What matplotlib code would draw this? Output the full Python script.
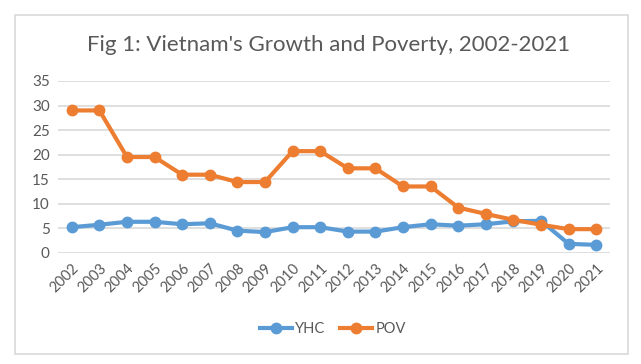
import matplotlib
matplotlib.use("Agg")
import matplotlib.pyplot as plt
from matplotlib.patches import Rectangle
from matplotlib.lines import Line2D

years = [str(y) for y in range(2002, 2022)]
yhc = [5.2, 5.7, 6.3, 6.3, 5.8, 6.0, 4.5, 4.2, 5.2, 5.2,
       4.3, 4.3, 5.2, 5.8, 5.5, 5.8, 6.4, 6.5, 1.8, 1.6]
pov = [29.0, 29.0, 19.5, 19.5, 15.9, 15.9, 14.4, 14.4, 20.7, 20.7,
       17.2, 17.2, 13.5, 13.5, 9.2, 7.9, 6.7, 5.7, 4.8, 4.8]
yticks = [0, 5, 10, 15, 20, 25, 30, 35]

W, H = 641, 364
fig = plt.figure(figsize=(W / 100, H / 100), dpi=100)
plt.rcParams['font.family'] = ['Lato', 'DejaVu Sans']

txt = '#595959'
grid = '#D9D9D9'

# chart border
fig.patches.append(Rectangle((15 / W, 1 - 354 / H), (628 - 15) / W, (354 - 15) / H,
                             transform=fig.transFigure, fill=False,
                             edgecolor=grid, linewidth=1.2))

ax = fig.add_axes([58 / W, 1 - 252.7 / H, (610 - 58) / W, (252.7 - 81) / H])
x = range(len(years))
ax.plot(x, yhc, color='#5B9BD5', linewidth=3, marker='o', markersize=7.5, label='YHC', zorder=3)
ax.plot(x, pov, color='#ED7D31', linewidth=3, marker='o', markersize=7.5, label='POV', zorder=4)

ax.set_xlim(-0.5, len(years) - 0.5)
ax.set_ylim(0, 35)
ax.set_yticks(yticks)
ax.set_yticklabels([str(v) for v in yticks], color=txt, fontsize=11)
ax.set_xticks(list(x))
ax.set_xticklabels(years, rotation=45, ha='right', rotation_mode='anchor',
                   color=txt, fontsize=10.5)
ax.tick_params(axis='both', length=0, pad=6)
ax.tick_params(axis='x', pad=6)
ax.yaxis.grid(True, color=grid, linewidth=1.2)
ax.set_axisbelow(True)
for s in ax.spines.values():
    s.set_visible(False)

fig.text(329 / W, 1 - 45 / H, "Fig 1: Vietnam's Growth and Poverty, 2002-2021",
         ha='center', va='center', fontsize=16, color=txt)

handles = [Line2D([0], [0], color='#5B9BD5', linewidth=3, marker='o', markersize=7.5),
           Line2D([0], [0], color='#ED7D31', linewidth=3, marker='o', markersize=7.5)]
fig.legend(handles, ['YHC', 'POV'], loc='center', bbox_to_anchor=(333 / W, 1 - 329 / H),
           ncol=2, frameon=False, fontsize=10.5, labelcolor=txt, handlelength=2.2,
           handletextpad=0.2, columnspacing=1.0)

fig.savefig('out.png', dpi=100)
